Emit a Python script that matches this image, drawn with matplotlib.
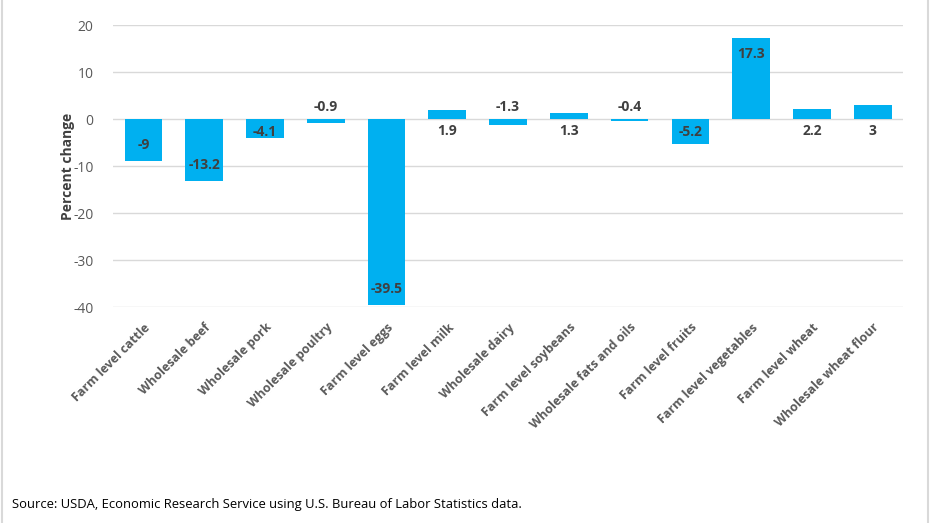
import matplotlib

matplotlib.use("Agg")

import matplotlib.pyplot as plt
from matplotlib.lines import Line2D

categories = [
    "Farm level cattle",
    "Wholesale beef",
    "Wholesale pork",
    "Wholesale poultry",
    "Farm level eggs",
    "Farm level milk",
    "Wholesale dairy",
    "Farm level soybeans",
    "Wholesale fats and oils",
    "Farm level fruits",
    "Farm level vegetables",
    "Farm level wheat",
    "Wholesale wheat flour",
]
values = [-9, -13.2, -4.1, -0.9, -39.5, 1.9, -1.3, 1.3, -0.4, -5.2, 17.3, 2.2, 3]
y_ticks = [-40, -30, -20, -10, 0, 10, 20]

BAR = "#00B0F0"
GRID = "#D9D9D9"
TICK = "#595959"
LABEL = "#404040"
PX = 72 / 100  # points per pixel at dpi 100

plt.rcParams["font.family"] = ["Open Sans", "DejaVu Sans"]

fig = plt.figure(figsize=(9.31, 5.23), dpi=100)
ax = fig.add_axes([0.1214, 0.413, 0.8486, 0.539])

x = list(range(len(categories)))
ax.bar(x, values, width=0.62, color=BAR, zorder=3)

ax.set_xlim(-0.5, len(categories) - 0.5)
ax.set_ylim(-40, 20)
ax.set_yticks(y_ticks)
ax.set_yticklabels([str(t) for t in y_ticks], color=TICK, fontsize=10)
ax.grid(axis="y", color=GRID, linewidth=1, zorder=0)
ax.tick_params(axis="both", length=0)
ax.tick_params(axis="y", pad=14)
for s in ax.spines.values():
    s.set_visible(False)

ax.set_xticks(x)
ax.set_xticklabels(categories, rotation=45, ha="right", rotation_mode="anchor",
                   color=TICK, fontsize=9, fontweight="bold")
ax.tick_params(axis="x", pad=10)

ax.set_ylabel("Percent change", fontsize=10, fontweight="bold", color=LABEL, labelpad=-1)

# pixels per data unit on y
y0 = ax.transData.transform((0, 0))[1]
y1 = ax.transData.transform((0, 1))[1]
px_per_unit = y1 - y0

# data labels: inside the bar end for long bars, across the zero line for short ones
for xi, v in zip(x, values):
    h = abs(v) * px_per_unit
    sign = 1 if v < 0 else -1
    if abs(v) > 3.5:
        off = min(16, h - 13)
        ax.annotate(str(v), (xi, v), xytext=(0, sign * off * PX), textcoords="offset points",
                    ha="center", va="center", fontsize=10, fontweight="bold",
                    color=LABEL, zorder=4)
    else:
        ax.annotate(str(v), (xi, 0), xytext=(0, sign * 12 * PX), textcoords="offset points",
                    ha="center", va="center", fontsize=10, fontweight="bold",
                    color=LABEL, zorder=4)

fig.text(0.013, 0.036, "Source: USDA, Economic Research Service using U.S. Bureau of Labor Statistics data.",
         fontsize=9.4, color="black", ha="left", va="center")

fig.add_artist(Line2D([0.002, 0.002], [0, 1], transform=fig.transFigure, color=GRID, linewidth=1.5))
fig.add_artist(Line2D([0.997, 0.997], [0, 1], transform=fig.transFigure, color=GRID, linewidth=1.5))

fig.savefig("out.png", dpi=100)
plt.close(fig)
